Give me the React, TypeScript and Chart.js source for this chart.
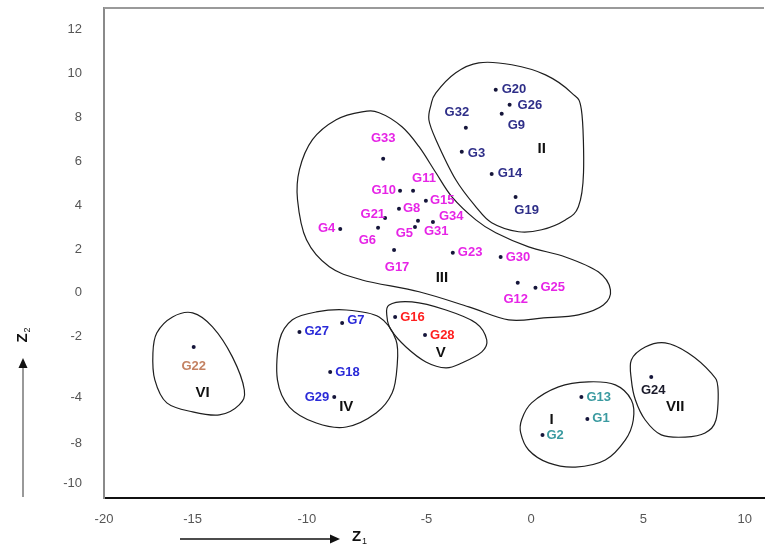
import React, { useEffect, useRef } from "react";
import { Chart, registerables } from "chart.js";

Chart.register(...registerables);

// ---- data ----
const names = ["G1","G2","G3","G4","G5","G6","G7","G8","G9","G10","G11","G12","G13","G14","G15","G16","G17","G18","G19","G20","G21","G22","G23","G24","G25","G26","G27","G28","G29","G30","G31","G32","G33","G34"];
const z1 = [2.63,0.53,-3.25,-8.94,-5.44,-7.17,-8.85,-6.19,-1.38,-6.14,-5.53,-0.63,2.35,-1.85,-4.93,-6.37,-6.42,-9.41,-0.73,-1.66,-6.84,-15.8,-3.67,5.62,0.2,-1.01,-10.85,-4.97,-9.22,-1.43,-5.3,-3.06,-6.93,-4.6];
const z2 = [-5.75,-6.48,6.44,2.92,3.01,2.97,-1.37,3.84,8.17,4.66,4.66,0.46,-4.75,5.43,4.2,-1.1,1.96,-3.61,4.38,9.27,3.42,-2.47,1.83,-3.84,0.23,8.58,-1.78,-1.92,-4.75,1.64,3.29,7.53,6.12,3.24];
const cluster = ["I","I","II","III","III","III","IV","III","II","III","III","III","I","II","III","V","III","IV","II","II","III","VI","III","VII","III","II","IV","V","IV","III","III","II","III","III"];

const clusterNames = ["I","II","III","IV","V","VI","VII"];
const clusterNameX = [0.95,0.49,-4.18,-8.66,-4.23,-15.38,6.74];
const clusterNameY = [-5.8,6.58,0.68,-5.21,-2.74,-4.57,-5.21];

// cluster outlines (data units)
const outlineI_x = [-0.45,0.02,1.28,2.68,3.94,4.69,4.78,4.41,3.47,2.07,0.81,-0.12,-0.49];
const outlineI_y = [-5.8,-5.02,-4.29,-4.06,-4.2,-4.89,-5.8,-6.71,-7.63,-7.95,-7.76,-7.17,-6.39];
const outlineII_x = [-4.69,-4.46,-3.53,-2.45,-0.91,0.67,1.89,2.35,2.45,2.21,1.6,0.49,-0.59,-1.85,-2.59,-3.53,-4.46,-4.79];
const outlineII_y = [8.58,9.13,10.05,10.5,10.41,9.95,9.13,8.36,5.48,3.93,3.33,2.88,2.79,3.2,3.93,5.16,6.99,7.9];
const outlineIII_x = [-9.13,-7.92,-7.12,-6.05,-5.25,-4.46,-3.71,-2.59,-1.66,-0.12,1.6,3.14,3.71,3.38,2.21,0.58,-1.05,-2.92,-5.25,-7.92,-9.45,-10.52,-10.94,-10.85,-10.24];
const outlineIII_y = [7.9,8.26,8.22,7.58,6.67,5.48,4.38,3.33,2.74,2.1,1.64,0.96,0.14,-0.55,-1.0,-1.14,-1.23,-0.64,0.05,0.59,1.19,2.42,4.25,5.62,6.99];
const outlineIV_x = [-11.78,-11.18,-10.06,-8.66,-7.12,-6.33,-6.28,-6.51,-7.26,-8.66,-10.06,-11.32,-11.88];
const outlineIV_y = [-2.15,-1.23,-0.87,-0.78,-1.1,-2.15,-3.38,-4.57,-5.48,-6.12,-5.94,-5.21,-3.97];
const outlineV_x = [-6.65,-5.58,-3.99,-2.59,-2.08,-2.31,-3.25,-3.99,-4.93,-5.86,-6.56,-6.75];
const outlineV_y = [-0.55,-0.41,-0.78,-1.37,-2.15,-2.69,-3.2,-3.42,-3.15,-2.47,-1.69,-1.1];
const outlineVI_x = [-17.53,-16.79,-15.85,-14.92,-13.99,-13.43,-13.67,-14.6,-15.85,-17.06,-17.62,-17.71];
const outlineVI_y = [-1.83,-1.1,-0.91,-1.55,-2.92,-4.43,-5.11,-5.57,-5.43,-5.02,-3.97,-2.74];
const outlineVII_x = [4.69,5.34,6.27,7.35,8.42,8.74,8.65,8.14,7.21,6.09,5.34,4.88,4.69];
const outlineVII_y = [-3.06,-2.47,-2.28,-2.74,-3.65,-4.29,-5.8,-6.39,-6.58,-6.48,-5.8,-4.89,-3.97];

const xTickValues = [-20,-15.85,-10.5,-4.9,0,5.25,10];
const xTickLabels = ["-20","-15","-10","-5","0","5","10"];
const yTickValues = [12,10,8,6,4,2,0,-2,-4.75,-6.85,-8.7];
const yTickLabels = ["12","10","8","6","4","2","0","-2","-4","-8","-10"];

// ---- styles ----
const clusterColors: Record<string, string> = {
  I: "#3a9aa0", II: "#2e2e88", III: "#e624e6", IV: "#2a2ad8", V: "#ff1f1f", VI: "#c48262", VII: "#1a1a2a",
};
// label placement: [dx, dy, align]
const labelPlace: Record<string, [number, number, CanvasTextAlign]> = {
  G1: [5, 0, "left"], G2: [4, 1, "left"], G3: [6, 2, "left"], G4: [-5, 0, "right"],
  G5: [-2, 6, "right"], G6: [-2, 13, "right"], G7: [5, -2, "left"], G8: [4, 0, "left"],
  G9: [6, 12, "left"], G10: [-4, 0, "right"], G11: [-1, -12, "left"], G12: [-2, 17, "center"],
  G13: [5, 0, "left"], G14: [6, 0, "left"], G15: [4, 0, "left"], G16: [5, 0, "left"],
  G17: [3, 17, "center"], G18: [5, 0, "left"], G19: [11, 14, "center"], G20: [6, 0, "left"],
  G21: [0, -4, "right"], G22: [0, 19, "center"], G23: [5, 0, "left"], G24: [2, 13, "center"],
  G25: [5, 0, "left"], G26: [8, 1, "left"], G27: [5, 0, "left"], G28: [5, 0, "left"],
  G29: [-5, 0, "right"], G30: [5, 0, "left"], G31: [6, 11, "left"], G32: [-9, -15, "center"],
  G33: [0, -20, "center"], G34: [6, -5, "left"],
};

const outlines: [number[], number[]][] = [
  [outlineI_x, outlineI_y], [outlineII_x, outlineII_y], [outlineIII_x, outlineIII_y],
  [outlineIV_x, outlineIV_y], [outlineV_x, outlineV_y], [outlineVI_x, outlineVI_y], [outlineVII_x, outlineVII_y],
];

const FONT = "'Liberation Sans Narrow', 'Liberation Sans', Arial, sans-serif";

const decorPlugin = {
  id: "decor",
  beforeDatasetsDraw(chart: any) {
    const { ctx, chartArea, scales } = chart;
    const xs = scales.x, ys = scales.y;
    ctx.save();
    // top border
    ctx.strokeStyle = "#9a9a9a";
    ctx.lineWidth = 2;
    ctx.beginPath();
    ctx.moveTo(chartArea.left, chartArea.top);
    ctx.lineTo(chartArea.right, chartArea.top);
    ctx.stroke();
    // cluster outlines (closed Catmull-Rom curves)
    ctx.strokeStyle = "#1e1e1e";
    ctx.lineWidth = 1.2;
    for (const [ox, oy] of outlines) {
      const p = ox.map((v, i) => [xs.getPixelForValue(v), ys.getPixelForValue(oy[i])]);
      const n = p.length;
      ctx.beginPath();
      ctx.moveTo(p[0][0], p[0][1]);
      for (let i = 0; i < n; i++) {
        const p0 = p[(i - 1 + n) % n], p1 = p[i], p2 = p[(i + 1) % n], p3 = p[(i + 2) % n];
        ctx.bezierCurveTo(
          p1[0] + (p2[0] - p0[0]) / 6, p1[1] + (p2[1] - p0[1]) / 6,
          p2[0] - (p3[0] - p1[0]) / 6, p2[1] - (p3[1] - p1[1]) / 6,
          p2[0], p2[1]
        );
      }
      ctx.closePath();
      ctx.stroke();
    }
    ctx.restore();
  },
  afterDatasetsDraw(chart: any) {
    const { ctx, chartArea, scales } = chart;
    const xs = scales.x, ys = scales.y;
    ctx.save();
    // point labels
    ctx.font = `bold 13px ${FONT}`;
    ctx.textBaseline = "middle";
    names.forEach((nm, i) => {
      const px = xs.getPixelForValue(z1[i]);
      const py = ys.getPixelForValue(z2[i]);
      const [dx, dy, al] = labelPlace[nm] || [5, 0, "left"];
      ctx.fillStyle = clusterColors[cluster[i]];
      ctx.textAlign = al;
      ctx.fillText(nm, px + dx, py + dy);
    });
    // cluster numerals
    ctx.fillStyle = "#111";
    ctx.font = `bold 15px ${FONT}`;
    ctx.textAlign = "center";
    clusterNames.forEach((c, i) => {
      ctx.fillText(c, xs.getPixelForValue(clusterNameX[i]), ys.getPixelForValue(clusterNameY[i]));
    });
    // Z1 arrow
    const ay = chartArea.bottom + 41;
    const ax0 = chartArea.left + 76, ax1 = chartArea.left + 236;
    ctx.strokeStyle = "#111";
    ctx.fillStyle = "#111";
    ctx.lineWidth = 1.5;
    ctx.beginPath();
    ctx.moveTo(ax0, ay);
    ctx.lineTo(ax1 - 8, ay);
    ctx.stroke();
    ctx.beginPath();
    ctx.moveTo(ax1, ay);
    ctx.lineTo(ax1 - 10, ay - 4.5);
    ctx.lineTo(ax1 - 10, ay + 4.5);
    ctx.closePath();
    ctx.fill();
    ctx.font = `bold 15px ${FONT}`;
    ctx.textAlign = "left";
    ctx.fillText("Z", ax1 + 12, ay - 2);
    ctx.font = `9px ${FONT}`;
    ctx.fillText("1", ax1 + 22, ay + 3);
    // Z2 arrow (vertical)
    const vx = 23;
    const vy0 = chartArea.bottom - 1, vy1 = chartArea.bottom - 140;
    ctx.strokeStyle = "#777";
    ctx.lineWidth = 1.5;
    ctx.beginPath();
    ctx.moveTo(vx, vy0);
    ctx.lineTo(vx, vy1 + 8);
    ctx.stroke();
    ctx.fillStyle = "#111";
    ctx.beginPath();
    ctx.moveTo(vx, vy1);
    ctx.lineTo(vx - 4.5, vy1 + 10);
    ctx.lineTo(vx + 4.5, vy1 + 10);
    ctx.closePath();
    ctx.fill();
    ctx.save();
    ctx.translate(vx, vy1 - 22);
    ctx.rotate(-Math.PI / 2);
    ctx.font = `bold 15px ${FONT}`;
    ctx.textAlign = "center";
    ctx.fillText("Z", -2, 0);
    ctx.font = `9px ${FONT}`;
    ctx.fillText("2", 6, 5);
    ctx.restore();
    ctx.restore();
  },
};

export default function App() {
  const ref = useRef<HTMLCanvasElement>(null);
  useEffect(() => {
    document.body.style.margin = "0";
    const chart = new Chart(ref.current!, {
      type: "scatter",
      data: {
        datasets: [
          {
            data: z1.map((x, i) => ({ x, y: z2[i] })),
            pointRadius: 2,
            pointHoverRadius: 2,
            pointBackgroundColor: "#15153a",
            pointBorderColor: "#15153a",
            borderWidth: 0,
          },
        ],
      },
      options: {
        animation: false,
        responsive: true,
        maintainAspectRatio: false,
        layout: { padding: { top: 8, right: 0, left: 0, bottom: 0 } },
        plugins: { legend: { display: false }, tooltip: { enabled: false } },
        scales: {
          x: {
            type: "linear",
            min: -20,
            max: 10.9,
            grid: { display: false },
            border: { display: true, color: "#111", width: 2 },
            afterBuildTicks: (axis: any) => {
              axis.ticks = xTickValues.map((v) => ({ value: v }));
            },
            afterFit: (axis: any) => {
              axis.height = 49;
              axis.paddingLeft = 0;
              axis.paddingRight = 0;
            },
            ticks: {
              autoSkip: false,
              maxRotation: 0,
              padding: 6,
              color: "#555",
              font: { size: 13, family: FONT },
              callback: (_v: any, i: number) => xTickLabels[i],
            },
          },
          y: {
            type: "linear",
            min: -9.36,
            max: 13.0,
            grid: { display: false },
            border: { display: true, color: "#8a8a8a", width: 2 },
            afterBuildTicks: (axis: any) => {
              axis.ticks = yTickValues.map((v) => ({ value: v }));
            },
            afterFit: (axis: any) => {
              axis.width = 104;
              axis.paddingTop = 0;
              axis.paddingBottom = 0;
            },
            ticks: {
              autoSkip: false,
              padding: 14,
              color: "#555",
              font: { size: 13, family: FONT },
              callback: (_v: any, i: number) => yTickLabels[i],
            },
          },
        },
      },
      plugins: [decorPlugin],
    });
    return () => chart.destroy();
  }, []);
  return (
    <div style={{ width: 766, height: 547, position: "relative", background: "#fff" }}>
      <canvas ref={ref} />
    </div>
  );
}
